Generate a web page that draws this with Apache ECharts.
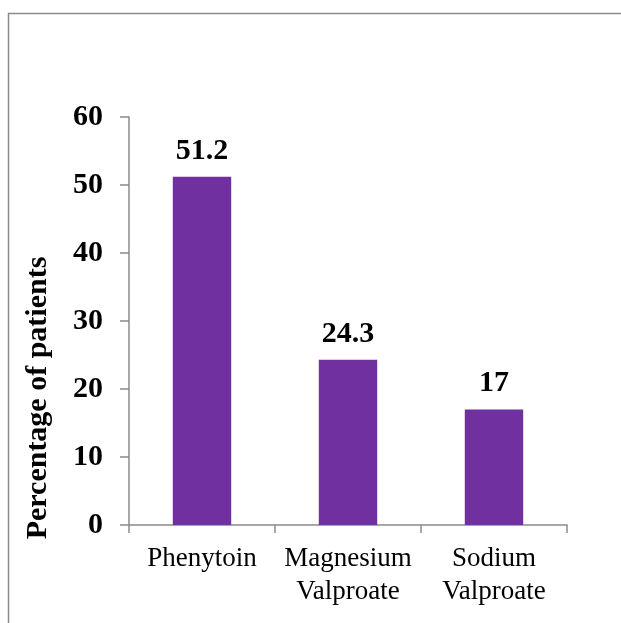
<!DOCTYPE html>
<html>
<head>
<meta charset="utf-8">
<script src="https://cdn.jsdelivr.net/npm/echarts@6/dist/echarts.min.js"></script>
<style>
html,body{margin:0;padding:0;background:#fff;}
#chart{width:621px;height:623px;}
</style>
</head>
<body>
<div id="chart"></div>
<script>
const categories = ['Phenytoin', 'Magnesium\nValproate', 'Sodium\nValproate'];
const values = [51.2, 24.3, 17];
const yTitle = 'Percentage of patients';

const FONT = '"Liberation Serif", "Times New Roman", serif';
const chart = echarts.init(document.getElementById('chart'));
chart.setOption({
  animation: false,
  backgroundColor: '#fff',
  grid: { left: 129, right: 54, top: 117, bottom: 98 },
  graphic: [
    {
      type: 'rect', silent: true,
      shape: { x: 8.5, y: 13.5, width: 700, height: 700 },
      style: { fill: 'none', stroke: '#8a8a8a', lineWidth: 1.5 }
    },
    {
      type: 'text', silent: true, x: 38, y: 398, rotation: Math.PI / 2,
      style: { text: yTitle, font: 'bold 30px ' + FONT, fill: '#000', align: 'center', verticalAlign: 'middle' }
    }
  ],
  xAxis: {
    type: 'category',
    data: categories,
    axisLine: { lineStyle: { color: '#8a8a8a', width: 1.5 } },
    axisTick: { show: true, length: 8, lineStyle: { color: '#8a8a8a', width: 1.5 } },
    axisLabel: { color: '#000', fontFamily: FONT, fontSize: 27, lineHeight: 33, margin: 17, interval: 0 }
  },
  yAxis: {
    type: 'value', min: 0, max: 60, interval: 10,
    splitLine: { show: false },
    axisLine: { show: true, lineStyle: { color: '#8a8a8a', width: 1.5 } },
    axisTick: { show: true, length: 9, lineStyle: { color: '#8a8a8a', width: 1.5 } },
    axisLabel: { color: '#000', fontFamily: FONT, fontSize: 30, fontWeight: 'bold', margin: 26 }
  },
  series: [{
    type: 'bar',
    data: values,
    barWidth: '40%',
    itemStyle: { color: '#7030A0' },
    label: { show: true, position: 'top', distance: 11, color: '#000', fontFamily: FONT, fontSize: 30, fontWeight: 'bold' }
  }]
});
</script>
</body>
</html>
